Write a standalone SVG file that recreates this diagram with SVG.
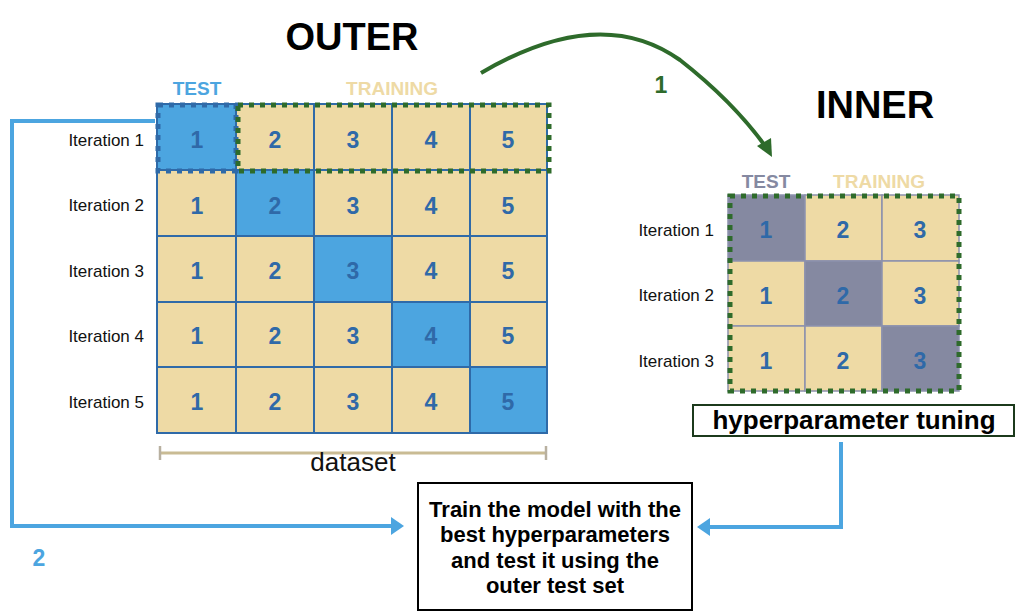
<svg xmlns="http://www.w3.org/2000/svg" width="1023" height="616" viewBox="0 0 1023 616">
<defs>
<style>
text{font-family:"Liberation Sans",Arial,sans-serif}
.tan{fill:#eedaa5;stroke:#2f6aa8;stroke-width:2}
.blu{fill:#4ca5e0;stroke:#2f6aa8;stroke-width:2}
.itan{fill:#eedaa5;stroke:#8c91ad;stroke-width:1.5}
.igry{fill:#8589a1;stroke:#8c91ad;stroke-width:1.5}
.num{font-size:23px;font-weight:bold;fill:#2f69a8;text-anchor:middle}
.it{font-size:17px;fill:#111;text-anchor:end}
.gd{fill:none;stroke:#2e6b2b;stroke-width:5;stroke-dasharray:5 6}
.bd{fill:none;stroke:#2f6aa8;stroke-width:5;stroke-dasharray:5 6}
.title{font-size:38px;font-weight:bold;fill:#000;text-anchor:middle}
.bluearr{fill:none;stroke:#4ca5e0;stroke-width:4}
.txt{font-size:22px;font-weight:bold;fill:#000;text-anchor:middle}
.lbl{font-size:19px;font-weight:bold;text-anchor:middle}
</style>
</defs>
<rect width="1023" height="616" fill="#fff"/>

<text class="title" x="352" y="50">OUTER</text>
<text class="title" x="875" y="118">INNER</text>

<g id="outer-grid">
<text class="lbl" x="197" y="95" fill="#4ca5e0">TEST</text>
<text class="lbl" x="392" y="95" fill="#eedaa5">TRAINING</text>
<g id="row1">
<rect class="blu" x="157" y="104" width="79" height="66"/><rect class="tan" x="236" y="104" width="78" height="66"/><rect class="tan" x="314" y="104" width="78" height="66"/><rect class="tan" x="392" y="104" width="78" height="66"/><rect class="tan" x="470" y="104" width="77" height="66"/>
</g>
<g id="row2">
<rect class="tan" x="157" y="170" width="79" height="66"/><rect class="blu" x="236" y="170" width="78" height="66"/><rect class="tan" x="314" y="170" width="78" height="66"/><rect class="tan" x="392" y="170" width="78" height="66"/><rect class="tan" x="470" y="170" width="77" height="66"/>
</g>
<g id="row3">
<rect class="tan" x="157" y="236" width="79" height="66"/><rect class="tan" x="236" y="236" width="78" height="66"/><rect class="blu" x="314" y="236" width="78" height="66"/><rect class="tan" x="392" y="236" width="78" height="66"/><rect class="tan" x="470" y="236" width="77" height="66"/>
</g>
<g id="row4">
<rect class="tan" x="157" y="302" width="79" height="65"/><rect class="tan" x="236" y="302" width="78" height="65"/><rect class="tan" x="314" y="302" width="78" height="65"/><rect class="blu" x="392" y="302" width="78" height="65"/><rect class="tan" x="470" y="302" width="77" height="65"/>
</g>
<g id="row5">
<rect class="tan" x="157" y="367" width="79" height="66"/><rect class="tan" x="236" y="367" width="78" height="66"/><rect class="tan" x="314" y="367" width="78" height="66"/><rect class="tan" x="392" y="367" width="78" height="66"/><rect class="blu" x="470" y="367" width="77" height="66"/>
</g>
<g>
<text class="num" x="197" y="148">1</text><text class="num" x="275" y="148">2</text><text class="num" x="353" y="148">3</text><text class="num" x="431" y="148">4</text><text class="num" x="508" y="148">5</text>
<text class="num" x="197" y="214">1</text><text class="num" x="275" y="214">2</text><text class="num" x="353" y="214">3</text><text class="num" x="431" y="214">4</text><text class="num" x="508" y="214">5</text>
<text class="num" x="197" y="279">1</text><text class="num" x="275" y="279">2</text><text class="num" x="353" y="279">3</text><text class="num" x="431" y="279">4</text><text class="num" x="508" y="279">5</text>
<text class="num" x="197" y="344">1</text><text class="num" x="275" y="344">2</text><text class="num" x="353" y="344">3</text><text class="num" x="431" y="344">4</text><text class="num" x="508" y="344">5</text>
<text class="num" x="197" y="410">1</text><text class="num" x="275" y="410">2</text><text class="num" x="353" y="410">3</text><text class="num" x="431" y="410">4</text><text class="num" x="508" y="410">5</text>
</g>
<rect class="bd" x="158" y="105" width="78" height="66"/>
<rect class="gd" x="238" y="105" width="311" height="66"/>
<text class="it" x="144" y="146">Iteration 1</text>
<text class="it" x="144" y="211">Iteration 2</text>
<text class="it" x="144" y="277">Iteration 3</text>
<text class="it" x="144" y="342">Iteration 4</text>
<text class="it" x="144" y="408">Iteration 5</text>
</g>

<g id="dataset">
<line x1="160" y1="453" x2="546" y2="453" stroke="#c9bb94" stroke-width="3"/>
<line x1="160" y1="446" x2="160" y2="460" stroke="#b8b0a0" stroke-width="2.5"/>
<line x1="546" y1="446" x2="546" y2="460" stroke="#b8b0a0" stroke-width="2.5"/>
<text x="353" y="471" font-size="26" fill="#111" text-anchor="middle">dataset</text>
</g>

<g id="inner-grid">
<text class="lbl" x="766" y="188" fill="#8589a1">TEST</text>
<text class="lbl" x="879" y="188" fill="#eedaa5">TRAINING</text>
<rect class="igry" x="728" y="195" width="77" height="66"/><rect class="itan" x="805" y="195" width="77" height="66"/><rect class="itan" x="882" y="195" width="77" height="66"/>
<rect class="itan" x="728" y="261" width="77" height="65"/><rect class="igry" x="805" y="261" width="77" height="65"/><rect class="itan" x="882" y="261" width="77" height="65"/>
<rect class="itan" x="728" y="326" width="77" height="65"/><rect class="itan" x="805" y="326" width="77" height="65"/><rect class="igry" x="882" y="326" width="77" height="65"/>
<text class="num" x="766" y="238">1</text><text class="num" x="843" y="238">2</text><text class="num" x="920" y="238">3</text>
<text class="num" x="766" y="304">1</text><text class="num" x="843" y="304">2</text><text class="num" x="920" y="304">3</text>
<text class="num" x="766" y="369">1</text><text class="num" x="843" y="369">2</text><text class="num" x="920" y="369">3</text>
<rect class="gd" x="730" y="196" width="229" height="195"/>
<text class="it" x="714" y="236">Iteration 1</text>
<text class="it" x="714" y="301">Iteration 2</text>
<text class="it" x="714" y="367">Iteration 3</text>
</g>

<g id="hyper">
<rect x="693" y="405" width="321" height="31" fill="#fff" stroke="#1c3a1c" stroke-width="2"/>
<text x="854" y="429" font-size="26" font-weight="bold" fill="#000" text-anchor="middle">hyperparameter tuning</text>
</g>

<g id="train">
<rect x="418" y="483" width="274" height="127" fill="#fff" stroke="#000" stroke-width="2"/>
<text class="txt" x="555" y="517">Train the model with the</text>
<text class="txt" x="555" y="542">best hyperparameters</text>
<text class="txt" x="555" y="568">and test it using the</text>
<text class="txt" x="555" y="593">outer test set</text>
</g>

<g id="connectors">
<path class="bluearr" d="M155,121 H12 V526 H393"/>
<path d="M391,517 L404,526 L391,535 z" fill="#4ca5e0"/>
<path class="bluearr" d="M841,442 V527 H708"/>
<path d="M710,518 L697,527 L710,536 z" fill="#4ca5e0"/>
<path d="M481,73 Q600,3 680,60 Q735,103 768,150" fill="none" stroke="#2e6b2b" stroke-width="4"/>
<path d="M757,146 L772,157 L771,138 z" fill="#2e6b2b"/>
<text x="661" y="93" font-size="23" font-weight="bold" fill="#2e6b2b" text-anchor="middle">1</text>
<text x="39" y="566" font-size="23" font-weight="bold" fill="#4ca5e0" text-anchor="middle">2</text>
</g>
</svg>
